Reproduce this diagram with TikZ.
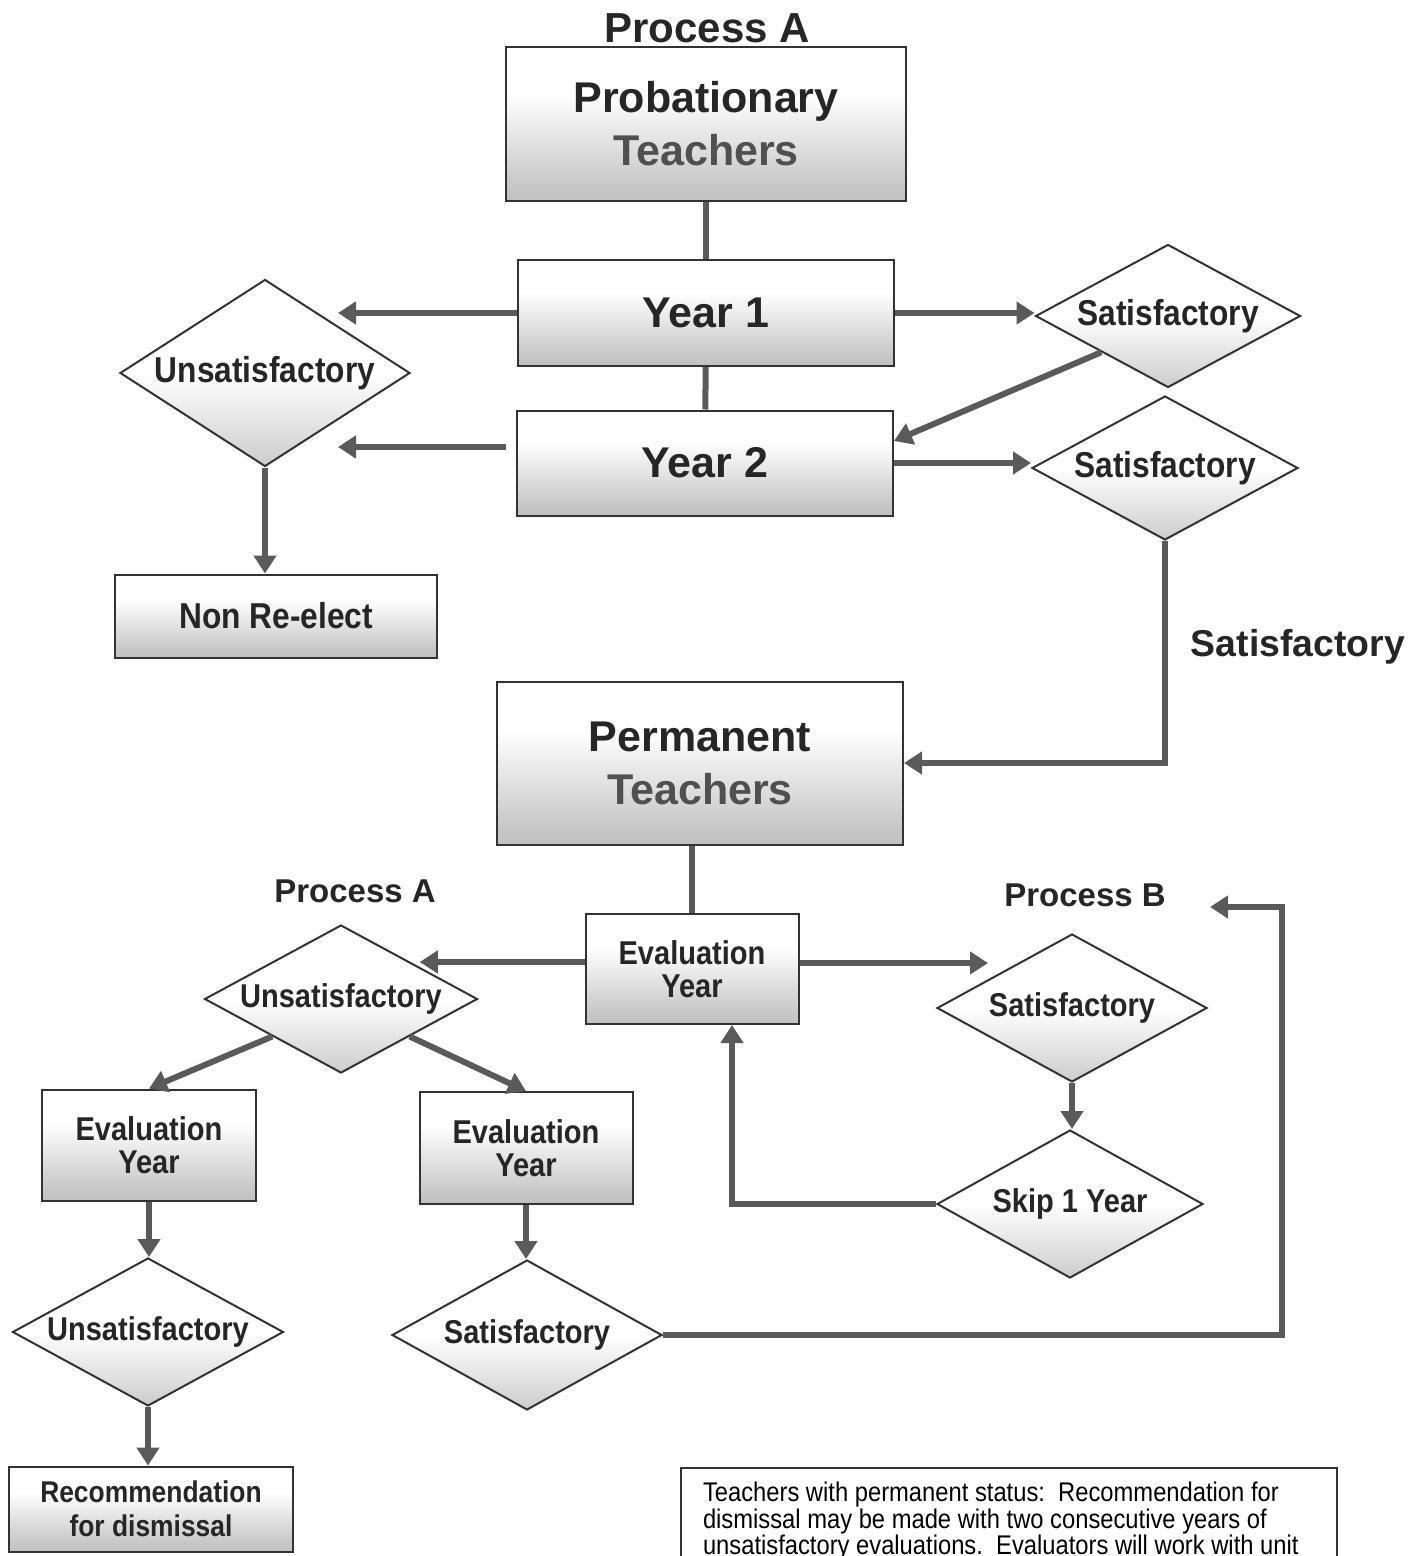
\documentclass[tikz,border=0pt]{standalone}
\usepackage{fontspec}
\setmainfont{Liberation Sans}
\newfontfamily\narrowsf[FakeStretch=0.88]{Liberation Sans}
\usetikzlibrary{shapes.geometric, arrows.meta, calc}

\definecolor{lnc}{HTML}{5A5A5A}
\definecolor{txc}{HTML}{262626}
\definecolor{txg}{HTML}{505050}
\pgfdeclareverticalshading{boxshade}{100bp}{color(0bp)=(black!38); color(30bp)=(black!22); color(60bp)=(white); color(100bp)=(white)}
\pgfdeclareverticalshading{diashade}{100bp}{color(0bp)=(black!40); color(50bp)=(white); color(100bp)=(white)}

\begin{document}
\begin{tikzpicture}[x=0.5pt, y=-0.5pt,
  box/.style={draw=black!80, line width=1pt, shading=boxshade, text=txc, align=center, inner sep=2pt},
  dia/.style={diamond, aspect=1.8, draw=black!80, line width=1pt, shading=diashade, text=txc, inner sep=0pt},
  ln/.style={draw=lnc, line width=3pt},
  arr/.style={ln, -{Triangle[length=9pt, width=11pt]}},
  big/.style={font=\fontsize{21.5}{26.5}\selectfont\bfseries},
  mid/.style={font=\narrowsf\fontsize{18}{22}\selectfont\bfseries},
  sml/.style={font=\narrowsf\fontsize{16.5}{16.5}\selectfont\bfseries},
  lbl/.style={text=txc, inner sep=0pt}]
\useasboundingbox (0,0) rectangle (1421,1556);
\clip (0,0) rectangle (1421,1556);

\node(a) at (707,28) [lbl, font=\fontsize{21}{21}\selectfont\bfseries] {Process A};
\node(b) at (706,124) [box, big, minimum width=200pt, minimum height=77pt] {Probationary\\\textcolor{txg}{Teachers}};
\node(c) at (706,313) [box, big, minimum width=188pt, minimum height=53pt] {Year 1};
\node(d) at (705,463) [box, big, minimum width=188pt, minimum height=52.5pt] {Year 2};
\node(e) at (1168,316) [dia, mid, minimum width=132.5pt, minimum height=71.5pt] {Satisfactory};
\node(f) at (1165,468) [dia, mid, minimum width=133pt, minimum height=72pt] {Satisfactory};
\node(g) at (265,373) [dia, mid, minimum width=145pt, minimum height=93.5pt] {Unsatisfactory};
\node(h) at (276,616) [box, mid, minimum width=161pt, minimum height=41.5pt] {Non Re-elect};
\node(i) at (1298,647) [lbl, font=\fontsize{18.7}{18.7}\selectfont\bfseries] {Satisfactory};
\node(j) at (700,763) [box, big, minimum width=203pt, minimum height=81.5pt] {Permanent\\\textcolor{txg}{Teachers}};
\node(k) at (355,891) [lbl, font=\fontsize{16.5}{16.5}\selectfont\bfseries] {Process A};
\node(l) at (1085,895) [lbl, font=\fontsize{16.5}{16.5}\selectfont\bfseries] {Process B};
\node(m) at (692,969) [box, sml, minimum width=106.5pt, minimum height=55pt] {Evaluation\\Year};
\node(n) at (341,999) [dia, sml, minimum width=136.5pt, minimum height=74pt] {Unsatisfactory};
\node(o) at (1072,1008) [dia, sml, minimum width=135pt, minimum height=74pt] {Satisfactory};
\node(p) at (1070,1204) [dia, sml, minimum width=133pt, minimum height=74pt] {Skip 1 Year};
\node(q) at (149,1145) [box, sml, minimum width=107pt, minimum height=55.5pt] {Evaluation\\Year};
\node(r) at (526,1148) [box, sml, minimum width=106.5pt, minimum height=56pt] {Evaluation\\Year};
\node(s) at (148,1332) [dia, sml, minimum width=135.5pt, minimum height=74pt] {Unsatisfactory};
\node(t) at (527,1335) [dia, sml, minimum width=135pt, minimum height=75pt] {Satisfactory};
\node(u) at (151,1509) [box, font=\narrowsf\fontsize{15}{17}\selectfont\bfseries, minimum width=142pt, minimum height=42.5pt] {Recommendation\\for dismissal};
\node(v) at (680,1467) [anchor=north west, draw=black!80, line width=1pt, inner xsep=11pt, inner ysep=7pt, font=\narrowsf\fontsize{13.5}{13.3}\selectfont, text=black]
  {\parbox[t][90pt][t]{306pt}{\raggedright Teachers with permanent status:\ \ Recommendation for\\ dismissal may be made with two consecutive years of\\ unsatisfactory evaluations.\ \ Evaluators will work with unit}};
\coordinate(w) at (1210,907);

\draw[ln] (b) -- (c);
\draw[ln] (c) -- (d);
\draw[arr] (c.west) -- (c.west -| g.north east);
\draw[arr] ([xshift=-5pt, yshift=8pt]d.west) -- ([yshift=8pt]d.west -| g.north east);
\draw[arr] (g.south) -- (g.south |- h.north);
\draw[arr] (c.east) -- (c.east -| e.west);
\draw[arr] (e.south west) -- ([yshift=11pt]d.east);
\draw[arr] (d.east) -- (d.east -| f.west);
\draw[arr] (f.south) |- (j.east);
\draw[ln] (j.south -| m.north) -- (m.north);
\draw[arr, shorten >=5pt] ([yshift=3.5pt]m.west) -- ([yshift=3.5pt]m.west -| n.north east);
\draw[arr, shorten >=8pt] ([yshift=3pt]m.east) -- ([yshift=3pt]m.east -| o.north west);
\draw[arr] (o.south) -- (o.south |- p.north);
\draw[arr] (p.west) -| ([xshift=20pt]m.south);
\draw[arr] (n.south west) -- (q.north);
\draw[arr] (n.south east) -- (r.north);
\draw[arr] (q.south) -- (q.south |- s.north);
\draw[arr] (s.south) -- (s.south |- u.north);
\draw[arr] (r.south) -- (r.south |- t.north);
\draw[arr] (t.east) -| ([xshift=36pt]w) -- (w);
\end{tikzpicture}
\end{document}
